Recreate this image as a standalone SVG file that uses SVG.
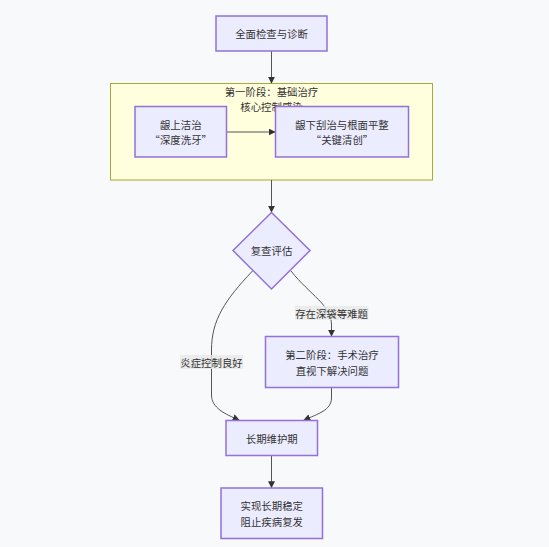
<svg xmlns="http://www.w3.org/2000/svg" width="549" height="547" viewBox="0 0 549 547">
<defs>
<style>
.node rect, .node polygon { fill: #ececff; stroke: #9370db; stroke-width: 1.5; }
.cluster rect { fill: #ffffde; stroke: #aaaa33; stroke-width: 1; }
text { font-family: "Noto Sans CJK SC", "Liberation Sans", sans-serif; font-size: 10.4px; fill: #333; text-anchor: middle; dominant-baseline: central; }
.edge { fill: none; stroke: #555; stroke-width: 1; }
.lbl rect { fill: #e8e8e8; opacity: 0.8; }
</style>
<marker id="arr" viewBox="0 0 10 10" refX="9" refY="5" markerWidth="7" markerHeight="7" orient="auto-start-reverse" markerUnits="userSpaceOnUse">
<path d="M0,0 L10,5 L0,10 z" fill="#333"/>
</marker>
</defs>
<rect width="549" height="547" fill="#f8f9fa"/>
<g id="cluster-phase1" class="cluster">
<rect x="110.5" y="83.5" width="322" height="96.5"/>
<text x="271.5" y="91">第一阶段：基础治疗</text>
<text x="271.5" y="106.5">核心控制感染</text>
</g>
<g id="connectors">
<path class="edge" d="M271.5,51 L271.5,83" marker-end="url(#arr)"/>
<path class="edge" d="M227,132 L275,132" marker-end="url(#arr)"/>
<path class="edge" d="M271.5,180 L271.5,212" marker-end="url(#arr)"/>
<path class="edge" d="M252.5,271 C225,300 211.5,320 211.5,350 L211.5,395 C211.5,408 225,414 239,420" marker-end="url(#arr)"/>
<path class="edge" d="M291,271 C310,295 331.5,305 331.5,325 L331.5,336" marker-end="url(#arr)"/>
<path class="edge" d="M331.5,388 L331.5,398 C331.5,410 318,414 304,420" marker-end="url(#arr)"/>
<path class="edge" d="M271.5,456 L271.5,487.5" marker-end="url(#arr)"/>
<g class="lbl">
<rect x="180" y="355" width="63" height="14"/>
<text x="211.5" y="362.5">炎症控制良好</text>
<rect x="295" y="306" width="73.5" height="14"/>
<text x="331.5" y="313.5">存在深袋等难题</text>
</g>
</g>
<g id="node-diagnosis" class="node">
<rect x="216" y="16" width="111" height="35"/>
<text x="271.5" y="33.5">全面检查与诊断</text>
</g>
<g id="node-supra" class="node">
<rect x="135" y="106.5" width="91.5" height="50.5"/>
<text x="180.75" y="124">龈上洁治</text>
<text x="180.75" y="139.5">“深度洗牙”</text>
</g>
<g id="node-sub" class="node">
<rect x="275.5" y="106.5" width="133" height="50.5"/>
<text x="342" y="124">龈下刮治与根面平整</text>
<text x="342" y="139.5">“关键清创”</text>
</g>
<g id="node-review" class="node">
<polygon points="271.5,212.5 310,250.5 271.5,289 233,250.5"/>
<text x="271.5" y="250.5">复查评估</text>
</g>
<g id="node-phase2" class="node">
<rect x="265.5" y="336.5" width="133" height="51"/>
<text x="332" y="354.5">第二阶段：手术治疗</text>
<text x="332" y="370.5">直视下解决问题</text>
</g>
<g id="node-maintain" class="node">
<rect x="226" y="420.5" width="91.5" height="35"/>
<text x="271.75" y="438">长期维护期</text>
</g>
<g id="node-final" class="node">
<rect x="221" y="488" width="101.5" height="50.5"/>
<text x="271.75" y="505.5">实现长期稳定</text>
<text x="271.75" y="521">阻止疾病复发</text>
</g>
</svg>
